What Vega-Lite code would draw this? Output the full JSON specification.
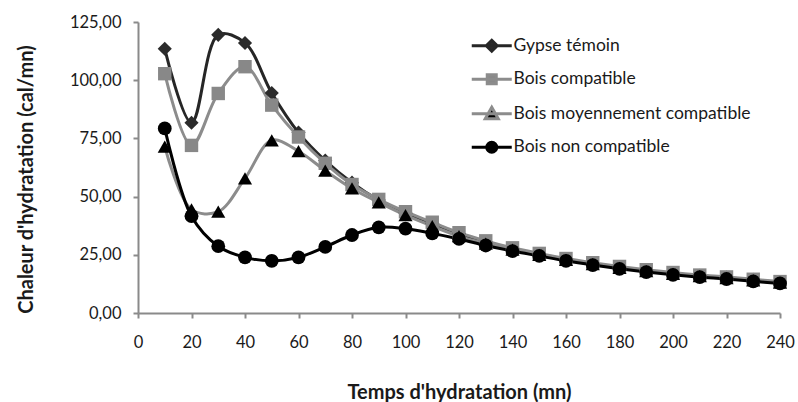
{
  "$schema": "https://vega.github.io/schema/vega-lite/v6.json",
  "width": 642,
  "height": 291,
  "autosize": {"type": "none"},
  "padding": {"left": 138, "top": 22, "right": 18, "bottom": 89},
  "background": "white",
  "config": {
    "view": {"stroke": null},
    "font": "Lato",
    "axis": {
      "grid": false,
      "domainColor": "#8a8a8a",
      "domainWidth": 2,
      "tickColor": "#8a8a8a",
      "tickWidth": 2,
      "tickSize": 5,
      "labelFont": "Lato",
      "labelFontSize": 16.5,
      "labelColor": "#1a1a1a",
      "titleFont": "Lato",
      "titleFontSize": 20,
      "titleFontWeight": "bold",
      "titleColor": "#1a1a1a"
    }
  },
  "data": {
    "values": [
      {"t": 10, "v": 113.5, "series": "Gypse témoin"},
      {"t": 20, "v": 81.7, "series": "Gypse témoin"},
      {"t": 30, "v": 119.5, "series": "Gypse témoin"},
      {"t": 40, "v": 116, "series": "Gypse témoin"},
      {"t": 50, "v": 94.5, "series": "Gypse témoin"},
      {"t": 60, "v": 77.5, "series": "Gypse témoin"},
      {"t": 70, "v": 65.5, "series": "Gypse témoin"},
      {"t": 80, "v": 56, "series": "Gypse témoin"},
      {"t": 90, "v": 48.5, "series": "Gypse témoin"},
      {"t": 100, "v": 43, "series": "Gypse témoin"},
      {"t": 110, "v": 38.5, "series": "Gypse témoin"},
      {"t": 120, "v": 34, "series": "Gypse témoin"},
      {"t": 130, "v": 30.5, "series": "Gypse témoin"},
      {"t": 140, "v": 27.5, "series": "Gypse témoin"},
      {"t": 150, "v": 25.2, "series": "Gypse témoin"},
      {"t": 160, "v": 23, "series": "Gypse témoin"},
      {"t": 170, "v": 21.2, "series": "Gypse témoin"},
      {"t": 180, "v": 19.6, "series": "Gypse témoin"},
      {"t": 190, "v": 18.2, "series": "Gypse témoin"},
      {"t": 200, "v": 17, "series": "Gypse témoin"},
      {"t": 210, "v": 16, "series": "Gypse témoin"},
      {"t": 220, "v": 15.2, "series": "Gypse témoin"},
      {"t": 230, "v": 14.2, "series": "Gypse témoin"},
      {"t": 240, "v": 13.2, "series": "Gypse témoin"},
      {"t": 10, "v": 102.8, "series": "Bois compatible"},
      {"t": 20, "v": 72, "series": "Bois compatible"},
      {"t": 30, "v": 94.3, "series": "Bois compatible"},
      {"t": 40, "v": 105.8, "series": "Bois compatible"},
      {"t": 50, "v": 89.3, "series": "Bois compatible"},
      {"t": 60, "v": 75.6, "series": "Bois compatible"},
      {"t": 70, "v": 64.3, "series": "Bois compatible"},
      {"t": 80, "v": 55.2, "series": "Bois compatible"},
      {"t": 90, "v": 48.8, "series": "Bois compatible"},
      {"t": 100, "v": 43.5, "series": "Bois compatible"},
      {"t": 110, "v": 39, "series": "Bois compatible"},
      {"t": 120, "v": 34.5, "series": "Bois compatible"},
      {"t": 130, "v": 31, "series": "Bois compatible"},
      {"t": 140, "v": 28, "series": "Bois compatible"},
      {"t": 150, "v": 25.6, "series": "Bois compatible"},
      {"t": 160, "v": 23.4, "series": "Bois compatible"},
      {"t": 170, "v": 21.6, "series": "Bois compatible"},
      {"t": 180, "v": 20, "series": "Bois compatible"},
      {"t": 190, "v": 18.6, "series": "Bois compatible"},
      {"t": 200, "v": 17.4, "series": "Bois compatible"},
      {"t": 210, "v": 16.3, "series": "Bois compatible"},
      {"t": 220, "v": 15.5, "series": "Bois compatible"},
      {"t": 230, "v": 14.5, "series": "Bois compatible"},
      {"t": 240, "v": 13.5, "series": "Bois compatible"},
      {"t": 10, "v": 71.5, "series": "Bois moyennement compatible"},
      {"t": 20, "v": 44.5, "series": "Bois moyennement compatible"},
      {"t": 30, "v": 43.5, "series": "Bois moyennement compatible"},
      {"t": 40, "v": 57.8, "series": "Bois moyennement compatible"},
      {"t": 50, "v": 74.2, "series": "Bois moyennement compatible"},
      {"t": 60, "v": 69.5, "series": "Bois moyennement compatible"},
      {"t": 70, "v": 61.2, "series": "Bois moyennement compatible"},
      {"t": 80, "v": 53.5, "series": "Bois moyennement compatible"},
      {"t": 90, "v": 47.5, "series": "Bois moyennement compatible"},
      {"t": 100, "v": 42, "series": "Bois moyennement compatible"},
      {"t": 110, "v": 37.3, "series": "Bois moyennement compatible"},
      {"t": 120, "v": 33, "series": "Bois moyennement compatible"},
      {"t": 130, "v": 29.8, "series": "Bois moyennement compatible"},
      {"t": 140, "v": 27.2, "series": "Bois moyennement compatible"},
      {"t": 150, "v": 25, "series": "Bois moyennement compatible"},
      {"t": 160, "v": 22.8, "series": "Bois moyennement compatible"},
      {"t": 170, "v": 21, "series": "Bois moyennement compatible"},
      {"t": 180, "v": 19.4, "series": "Bois moyennement compatible"},
      {"t": 190, "v": 18, "series": "Bois moyennement compatible"},
      {"t": 200, "v": 16.8, "series": "Bois moyennement compatible"},
      {"t": 210, "v": 15.8, "series": "Bois moyennement compatible"},
      {"t": 220, "v": 15, "series": "Bois moyennement compatible"},
      {"t": 230, "v": 14, "series": "Bois moyennement compatible"},
      {"t": 240, "v": 13, "series": "Bois moyennement compatible"},
      {"t": 10, "v": 79.3, "series": "Bois non compatible"},
      {"t": 20, "v": 41.6, "series": "Bois non compatible"},
      {"t": 30, "v": 28.7, "series": "Bois non compatible"},
      {"t": 40, "v": 23.9, "series": "Bois non compatible"},
      {"t": 50, "v": 22.4, "series": "Bois non compatible"},
      {"t": 60, "v": 23.9, "series": "Bois non compatible"},
      {"t": 70, "v": 28.4, "series": "Bois non compatible"},
      {"t": 80, "v": 33.5, "series": "Bois non compatible"},
      {"t": 90, "v": 36.8, "series": "Bois non compatible"},
      {"t": 100, "v": 36.2, "series": "Bois non compatible"},
      {"t": 110, "v": 34.2, "series": "Bois non compatible"},
      {"t": 120, "v": 31.8, "series": "Bois non compatible"},
      {"t": 130, "v": 29, "series": "Bois non compatible"},
      {"t": 140, "v": 26.6, "series": "Bois non compatible"},
      {"t": 150, "v": 24.5, "series": "Bois non compatible"},
      {"t": 160, "v": 22.4, "series": "Bois non compatible"},
      {"t": 170, "v": 20.6, "series": "Bois non compatible"},
      {"t": 180, "v": 19, "series": "Bois non compatible"},
      {"t": 190, "v": 17.6, "series": "Bois non compatible"},
      {"t": 200, "v": 16.4, "series": "Bois non compatible"},
      {"t": 210, "v": 15.4, "series": "Bois non compatible"},
      {"t": 220, "v": 14.6, "series": "Bois non compatible"},
      {"t": 230, "v": 13.6, "series": "Bois non compatible"},
      {"t": 240, "v": 12.7, "series": "Bois non compatible"}
    ]
  },
  "encoding": {
    "x": {
      "field": "t",
      "type": "quantitative",
      "scale": {"domain": [0, 240], "nice": false, "zero": false},
      "axis": {
        "values": [0, 20, 40, 60, 80, 100, 120, 140, 160, 180, 200, 220, 240],
        "title": "Temps d'hydratation (mn)",
        "labelPadding": 16,
        "labelFlush": false,
        "titleY": 85,
        "titleBaseline": "alphabetic"
      }
    },
    "y": {
      "field": "v",
      "type": "quantitative",
      "scale": {"domain": [0, 125], "nice": false},
      "axis": {
        "values": [0, 25, 50, 75, 100, 125],
        "labelExpr": "replace(format(datum.value, '.2f'), '.', ',')",
        "title": "Chaleur d'hydratation (cal/mn)",
        "labelPadding": 12,
        "labelFlush": false,
        "titleX": -106,
        "titleY": 157,
        "titleBaseline": "alphabetic"
      }
    }
  },
  "layer": [
    {
      "mark": {"type": "line", "interpolate": "catmull-rom", "strokeWidth": 3},
      "encoding": {
        "stroke": {
          "field": "series",
          "type": "nominal",
          "scale": {
            "domain": ["Gypse témoin", "Bois compatible", "Bois moyennement compatible", "Bois non compatible"],
            "range": ["#262626", "#8c8c8c", "#8c8c8c", "#000000"]
          },
          "legend": {
            "title": null,
            "orient": "none",
            "legendX": 345,
            "legendY": 15,
            "padding": 0,
            "rowPadding": 10.5,
            "symbolSize": 100,
            "labelOffset": 13,
            "labelFont": "Lato",
            "labelFontSize": 17.5,
            "labelColor": "#1a1a1a",
            "labelLimit": 400,
            "encode": {
              "symbols": {
                "update": {
                  "shape": {"signal": "datum.value === 'Gypse témoin' ? 'M-4,0H4M0,-1.1L1.1,0L0,1.1L-1.1,0Z' : datum.value === 'Bois compatible' ? 'M-4,0H4M-0.9,-0.9H0.9V0.9H-0.9Z' : datum.value === 'Bois moyennement compatible' ? 'M-4,0H4M0,-1.3L1.3,1L-1.3,1Z' : 'M-4,0H4M-1,0A1,1,0,1,0,1,0A1,1,0,1,0,-1,0Z'"},
                  "fill": {"signal": "datum.value === 'Gypse témoin' ? '#2b2b2b' : datum.value === 'Bois compatible' ? '#888888' : '#000000'"},
                  "strokeWidth": {"value": 3},
                  "size": {"value": 100},
                  "opacity": {"value": 1},
                  "fillOpacity": {"value": 1}
                }
              }
            }
          }
        }
      }
    },
    {
      "transform": [{"filter": {"field": "series", "equal": "Gypse témoin"}}],
      "mark": {"type": "point", "shape": "diamond", "filled": true, "opacity": 1, "size": 200, "strokeWidth": 0, "fill": "#2b2b2b"},
      "encoding": {}
    },
    {
      "transform": [{"filter": {"field": "series", "equal": "Bois compatible"}}],
      "mark": {"type": "point", "shape": "square", "filled": true, "opacity": 1, "size": 180, "strokeWidth": 0, "fill": "#888888"},
      "encoding": {}
    },
    {
      "transform": [{"filter": {"field": "series", "equal": "Bois moyennement compatible"}}],
      "mark": {"type": "point", "shape": "triangle-up", "filled": true, "opacity": 1, "size": 200, "strokeWidth": 0, "fill": "#000000"},
      "encoding": {}
    },
    {
      "transform": [{"filter": {"field": "series", "equal": "Bois non compatible"}}],
      "mark": {"type": "point", "shape": "circle", "filled": true, "opacity": 1, "size": 190, "strokeWidth": 0, "fill": "#000000"},
      "encoding": {}
    }
  ]
}
